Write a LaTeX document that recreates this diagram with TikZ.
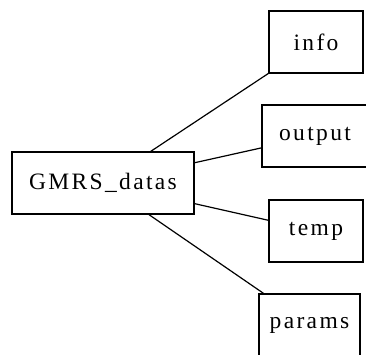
\documentclass[tikz,border=0pt]{standalone}
\usepackage{fontspec}
\setmainfont{Liberation Serif}[LetterSpace=10]
\tikzset{
  dirbox/.style={draw, line width=1.2pt, minimum height=62pt, inner sep=0pt, font=\fontsize{23.5}{26}\selectfont},
  link/.style={line width=1.2pt}
}

\begin{document}
\begin{tikzpicture}[x=1pt, y=-1pt]
  \useasboundingbox (0,0) rectangle (366,354);
  \clip (0,0) rectangle (366,354);
  % Root folder
  \node[dirbox, minimum width=182pt] (root) at (103,183) {GMRS\_datas};

  % Sub folders
  \node[dirbox, minimum width=94pt]  (info)   at (316,42)    {info};
  \node[dirbox, minimum width=106pt] (output) at (315,136)   {output};
  \node[dirbox, minimum width=94pt]  (temp)   at (316,231)   {temp};
  \node[dirbox, minimum width=101pt] (params) at (309.5,325) {params};

  % Connections
  \draw[link] (root) -- (info);
  \draw[link] (root) -- (output);
  \draw[link] (root) -- (temp);
  \draw[link] (root) -- (params);
\end{tikzpicture}
\end{document}
